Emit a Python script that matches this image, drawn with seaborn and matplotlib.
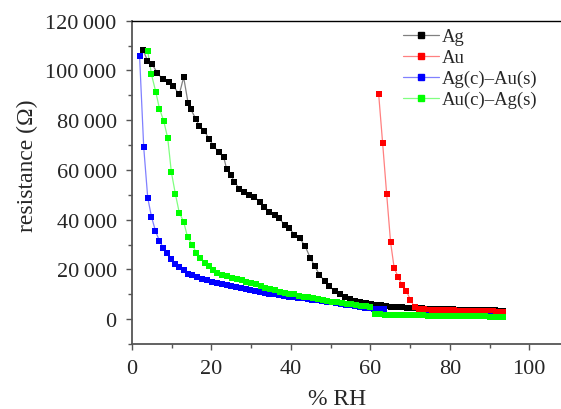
import matplotlib
matplotlib.use("Agg")
import matplotlib.pyplot as plt
from matplotlib.lines import Line2D
import seaborn as sns
import pandas as pd

# Relative humidity (%) and resistance (ohm) for each electrode type
ag_rh = [2.8, 3.9, 5.1, 6.4, 7.7, 9.2, 10.4, 11.9, 13.0, 14.1, 14.8, 16.1, 16.9, 18.2,
         19.4, 20.5, 21.8, 23.1, 23.8, 24.9, 25.8, 27.0, 28.3, 29.5, 30.8, 32.1, 33.3,
         34.6, 35.9, 37.1, 38.4, 39.6, 40.9, 42.2, 43.6, 44.9, 46.0, 47.2, 48.5, 49.7,
         51.0, 52.3, 53.6, 54.9, 56.2, 57.5, 58.8, 60.1, 61.4, 62.7, 64.0, 65.3, 66.6,
         67.9, 69.2, 70.5, 71.8, 73.1, 74.4, 75.7, 77.0, 78.3, 79.6, 80.9, 82.2, 83.5,
         84.8, 86.1, 87.4, 88.7, 90.0, 91.3, 92.6, 93.5]
ag_res = [108100, 104000, 102400, 99000, 96400, 95300, 93700, 90400, 97300, 87100,
          84400, 80400, 77800, 75800, 72400, 69800, 67100, 65100, 60500, 57800, 55200,
          52500, 51200, 49800, 49200, 47200, 45200, 43200, 41900, 40500, 37900, 36600,
          33900, 32600, 29300, 24600, 21300, 17900, 15300, 13300, 11300, 10000, 8900,
          8100, 7400, 6900, 6500, 6100, 5800, 5500, 5200, 5000, 4800, 4700, 4600, 4500,
          4400, 4300, 4200, 4200, 4100, 4000, 4000, 3900, 3800, 3800, 3700, 3700, 3600,
          3600, 3500, 3500, 3400, 3400]

au_rh = [62.1, 63.1, 64.1, 65.1, 66.0, 67.0, 68.0, 69.1, 70.1, 71.2, 72.3, 73.4, 74.5,
         75.6, 76.7, 77.8, 78.9, 80.0, 81.1, 82.2, 83.3, 84.4, 85.5, 86.6, 87.7, 88.8,
         89.9, 91.0, 92.1, 93.5]
au_res = [90400, 70700, 50500, 30900, 20600, 17000, 13600, 11300, 7700, 4700, 4000,
          3900, 3800, 3700, 3700, 3600, 3600, 3500, 3500, 3400, 3400, 3300, 3300, 3300,
          3200, 3200, 3100, 3100, 3000, 3000]

agau_rh = [1.9, 2.95, 3.96, 4.9, 5.9, 6.9, 7.9, 8.8, 9.8, 10.9, 11.9, 13.0, 14.0, 15.2,
           16.4, 17.7, 19.0, 20.2, 21.4, 22.6, 23.8, 25.0, 26.2, 27.4, 28.6, 29.8, 31.0,
           32.2, 33.4, 34.6, 35.8, 37.0, 38.2, 39.4, 40.6, 41.8, 43.0, 44.2, 45.4, 46.6,
           47.8, 49.0, 50.2, 51.4, 52.6, 53.8, 55.0, 56.2, 57.4, 58.6, 59.8, 61.0, 62.2,
           63.4, 64.6, 66.0, 68.0, 70.0, 72.0, 74.0, 76.0, 78.0, 80.0, 82.0, 84.0, 86.0,
           88.0, 90.0, 92.0, 93.5]
agau_res = [105900, 69100, 48800, 41200, 35500, 31500, 28600, 26600, 24300, 22300,
            21000, 19900, 18200, 17700, 16900, 16200, 15600, 15100, 14600, 14100, 13600,
            13200, 12800, 12400, 12000, 11700, 11300, 10900, 10600, 10300, 10000, 9700,
            9400, 9100, 8900, 8600, 8400, 8100, 7800, 7600, 7300, 7000, 6700, 6400, 6100,
            5800, 5500, 5200, 4900, 4600, 4400, 4200, 4000, 3900, 1800, 1700, 1600, 1600,
            1500, 1500, 1400, 1400, 1300, 1300, 1200, 1200, 1100, 1100, 1000, 1000]

auag_rh = [3.96, 4.9, 6.0, 6.9, 8.0, 9.0, 9.9, 10.9, 11.9, 13.0, 14.0, 15.2, 16.2, 17.2,
           18.4, 19.4, 20.5, 21.5, 22.7, 24.0, 25.2, 26.4, 27.6, 28.8, 30.0, 31.2, 32.4,
           33.6, 34.8, 36.0, 37.2, 38.4, 39.6, 40.8, 42.0, 43.2, 44.4, 45.6, 46.8, 48.0,
           49.2, 50.4, 51.6, 52.8, 54.0, 55.2, 56.4, 57.6, 58.8, 60.0, 61.2, 62.4, 63.6,
           64.8, 66.0, 67.2, 68.4, 69.6, 70.8, 72.0, 73.2, 74.4, 75.6, 76.8, 78.0, 79.2,
           80.4, 81.6, 82.8, 84.0, 85.2, 86.4, 87.6, 88.8, 90.0, 91.2, 92.4, 93.5]
auag_res = [107700, 98400, 91300, 84700, 79600, 72700, 59200, 50500, 42800, 39200,
            32900, 29900, 26600, 24600, 22600, 21300, 19900, 18600, 17900, 17300, 16700,
            16100, 15600, 15100, 14600, 14000, 13300, 12700, 12100, 11600, 11100, 10700,
            10300, 10000, 9400, 9100, 8800, 8500, 8100, 7700, 7300, 7000, 6700, 6400, 6100,
            5900, 5600, 5400, 5200, 5000, 2000, 1900, 1800, 1800, 1700, 1700, 1600, 1600,
            1500, 1500, 1500, 1400, 1400, 1400, 1300, 1300, 1300, 1200, 1200, 1200, 1100,
            1100, 1100, 1100, 1000, 1000, 1000, 1000]

series_names = ["Ag", "Au", "Ag(c)\u2013Au(s)", "Au(c)\u2013Ag(s)"]
marker_colors = ["#000000", "#ff0000", "#0000ff", "#00ff00"]
line_colors = ["#808080", "#ff8080", "#8080ff", "#80ff80"]

x_ticks = [0, 20, 40, 60, 80, 100]
x_tick_labels = ["0", "20", "40", "60", "80", "100"]
y_ticks = [0, 20000, 40000, 60000, 80000, 100000, 120000]
y_tick_labels = ["0", "20\u2009000", "40\u2009000", "60\u2009000", "80\u2009000",
                 "100\u2009000", "120\u2009000"]

frames = []
for name, rh, res in zip(series_names,
                         [ag_rh, au_rh, agau_rh, auag_rh],
                         [ag_res, au_res, agau_res, auag_res]):
    frames.append(pd.DataFrame({"rh": rh, "res": res, "sample": name}))
df = pd.concat(frames, ignore_index=True)

sns.set_style("ticks")
plt.rcParams["font.family"] = ["Liberation Serif", "DejaVu Serif"]

fig = plt.figure(figsize=(5.61, 4.10), dpi=100)
ax = fig.add_axes([0.2353, 0.1585, 0.7647, 0.7885])

for name, mc, lc in zip(series_names, marker_colors, line_colors):
    sub = df[df["sample"] == name]
    sns.lineplot(data=sub, x="rh", y="res", color=lc, lw=0.9, sort=False,
                 estimator=None, ax=ax, legend=False)
    sns.scatterplot(data=sub, x="rh", y="res", color=mc, marker="s", s=22,
                    linewidth=0, ax=ax, legend=False, zorder=3)

ax.set_xlim(0, 108)
ax.set_ylim(-10000, 120000)
ax.set_xticks(x_ticks)
ax.set_xticklabels(x_tick_labels)
ax.set_yticks(y_ticks)
ax.set_yticklabels(y_tick_labels)
ax.set_xticks([10, 30, 50, 70, 90], minor=True)
ax.set_yticks([-10000, 10000, 30000, 50000, 70000, 90000, 110000], minor=True)
ax.tick_params(axis="both", which="major", direction="out", length=4, width=1,
               color="#555555", labelsize=16)
ax.tick_params(axis="y", which="major", pad=7)
ax.tick_params(axis="x", which="major", pad=7)
ax.tick_params(axis="both", which="minor", direction="out", length=3, width=1,
               color="#555555")

for side in ["left", "bottom"]:
    ax.spines[side].set_color("#555555")
    ax.spines[side].set_linewidth(1.3)
ax.spines["top"].set_visible(True)
ax.spines["top"].set_color("#000000")
ax.spines["top"].set_linewidth(1.0)
ax.spines["right"].set_visible(False)

ax.set_xlabel("% RH", fontsize=17)
ax.xaxis.set_label_coords(0.479, -0.135)
ax.set_ylabel("resistance (\u03a9)", fontsize=17)
ax.yaxis.set_label_coords(-0.219, 0.555)

handles = [Line2D([0], [0], color=lc, lw=0.9, marker="s", markersize=5,
                  markerfacecolor=mc, markeredgecolor=mc)
           for mc, lc in zip(marker_colors, line_colors)]
ax.legend(handles, series_names, loc="upper left", frameon=False,
          bbox_to_anchor=(0.615, 1.0), fontsize=13.5, handlelength=1.9,
          handletextpad=0.15, labelspacing=0.2, borderaxespad=0.1, borderpad=0.3)

fig.savefig("out.png", dpi=100)
